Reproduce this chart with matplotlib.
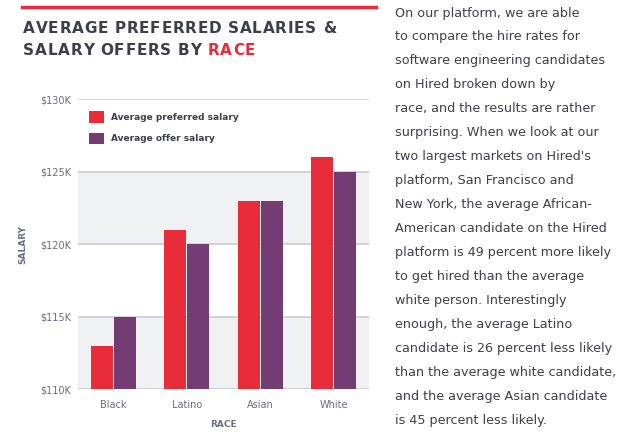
import numpy as np
import matplotlib.pyplot as plt
from matplotlib import font_manager
from matplotlib.ft2font import FT2Font

races = ['Black', 'Latino', 'Asian', 'White']
preferred = [113, 121, 123, 126]
offer = [115, 120, 123, 125]
yticks = [110, 115, 120, 125, 130]
ytick_labels = ['$110K', '$115K', '$120K', '$125K', '$130K']

body = ("On our platform, we are able\n"
        "to compare the hire rates for\n"
        "software engineering candidates\n"
        "on Hired broken down by\n"
        "race, and the results are rather\n"
        "surprising. When we look at our\n"
        "two largest markets on Hired's\n"
        "platform, San Francisco and\n"
        "New York, the average African-\n"
        "American candidate on the Hired\n"
        "platform is 49 percent more likely\n"
        "to get hired than the average\n"
        "white person. Interestingly\n"
        "enough, the average Latino\n"
        "candidate is 26 percent less likely\n"
        "than the average white candidate,\n"
        "and the average Asian candidate\n"
        "is 45 percent less likely.")

red = '#e82c3a'
purple = '#733c72'
dark = '#3f3f4c'
tickc = '#6c6c80'

plt.rcParams['font.family'] = ['DejaVu Sans']

fig = plt.figure(figsize=(6.33, 4.44), dpi=100)
ax = fig.add_axes([78/633, 1-389/444, 291/633, 290/444])

x = np.arange(len(races))
w = 0.30
ax.bar(x - w/2 - 0.005, preferred, w, color=red, zorder=3, label='Average preferred salary')
ax.bar(x + w/2 + 0.005, offer, w, color=purple, zorder=3, label='Average offer salary')

ax.set_ylim(110, 130)
ax.set_xlim(-0.48, 3.48)
ax.axhspan(110, 115, color='#f0f1f3', zorder=0, lw=0)
ax.axhspan(120, 125, color='#f0f1f3', zorder=0, lw=0)
for v in yticks:
    ax.axhline(v, color='#c9cdd4', lw=1.2, zorder=1)

ax.set_yticks(yticks)
ax.set_yticklabels(ytick_labels, fontsize=7, color=tickc)
ax.set_xticks(x)
ax.set_xticklabels(races, fontsize=7, color=tickc)
ax.tick_params(length=0, pad=5)
ax.tick_params(axis='x', pad=8)
for s in ax.spines.values():
    s.set_visible(False)

ax.set_xlabel('RACE', fontsize=6.5, color=tickc, fontweight='bold', labelpad=7)
ax.set_ylabel('SALARY', fontsize=6.5, color=tickc, fontweight='bold', labelpad=9)

leg = ax.legend(loc='upper left', bbox_to_anchor=(0.01, 0.985), frameon=False,
                fontsize=6.5, handlelength=1.65, handleheight=1.55, labelspacing=1.1,
                handletextpad=0.75)
for t in leg.get_texts():
    t.set_color(dark)
    t.set_fontweight('bold')

# bold font advances, used to space the title letters out
bold_path = font_manager.findfont(font_manager.FontProperties(family='DejaVu Sans', weight='bold'))
ft = FT2Font(bold_path)


def spaced(xpx, ypx, s, color, size=11, gap=0.72):
    ft.set_size(size, 100)
    for ch in s:
        fig.text(xpx/633, 1-ypx/444, ch, fontsize=size, fontweight='bold',
                 color=color, va='baseline')
        adv = ft.load_char(ord(ch)).linearHoriAdvance / 65536
        xpx += adv + gap
    return xpx


# header
fig.add_artist(plt.Line2D([22/633, 376/633], [1-7/444, 1-7/444], color=red, lw=2.5))
spaced(23, 33, 'AVERAGE PREFERRED SALARIES &', dark)
xe = spaced(23, 55, 'SALARY OFFERS BY ', dark)
spaced(xe, 55, 'RACE', red)

fig.text(395/633, 1-6.5/444, body, fontsize=9.2, color=dark, va='top', ha='left',
         linespacing=2.095)

fig.savefig('out.png', dpi=100)
